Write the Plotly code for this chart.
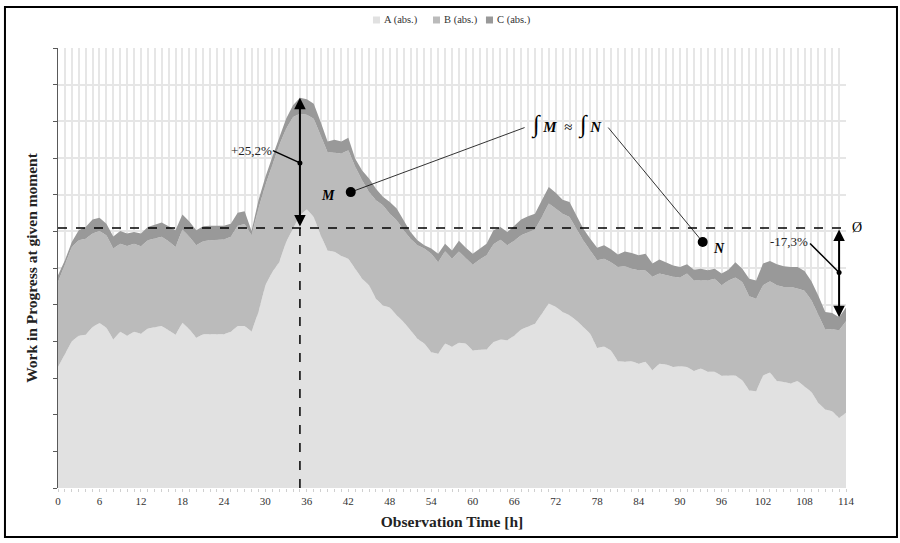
import plotly.graph_objects as go

# ---------------- data ----------------
hours = list(range(0, 115))

a_abs = [10.30, 10.66, 11.00, 11.15, 11.18, 11.39, 11.50, 11.37, 11.05, 11.26,
         11.15, 11.26, 11.21, 11.35, 11.38, 11.42, 11.30, 11.18, 11.51, 11.33,
         11.10, 11.19, 11.19, 11.19, 11.19, 11.26, 11.42, 11.42, 11.27, 11.80,
         12.53, 12.89, 13.16, 13.71, 14.07, 14.44, 14.60, 14.39, 13.89, 13.48,
         13.44, 13.33, 13.25, 12.98, 12.71, 12.53, 12.16, 11.98, 11.92, 11.71,
         11.53, 11.30, 11.07, 10.94, 10.70, 10.66, 10.94, 10.85, 10.96, 10.94,
         10.75, 10.77, 10.78, 10.98, 11.05, 11.03, 11.15, 11.32, 11.41, 11.48,
         11.75, 12.03, 11.94, 11.80, 11.71, 11.57, 11.39, 11.21, 10.82, 10.86,
         10.75, 10.46, 10.44, 10.46, 10.39, 10.44, 10.21, 10.39, 10.37, 10.30,
         10.32, 10.30, 10.19, 10.26, 10.17, 10.17, 10.06, 10.07, 10.07, 9.94,
         9.66, 9.64, 10.07, 10.15, 9.92, 9.89, 9.85, 9.92, 9.77, 9.62,
         9.32, 9.14, 9.09, 8.91, 9.05]

b_abs = [2.32, 2.41, 2.57, 2.61, 2.62, 2.55, 2.51, 2.52, 2.48, 2.40,
         2.45, 2.40, 2.38, 2.41, 2.42, 2.43, 2.43, 2.39, 2.54, 2.52,
         2.52, 2.54, 2.57, 2.57, 2.59, 2.59, 2.73, 2.78, 2.62, 2.82,
         2.73, 2.91, 3.19, 3.09, 3.05, 2.77, 2.58, 2.68, 2.73, 2.68,
         2.70, 2.79, 2.96, 2.78, 2.68, 2.54, 2.69, 2.73, 2.56, 2.59,
         2.50, 2.50, 2.55, 2.59, 2.69, 2.50, 2.52, 2.40, 2.49, 2.34,
         2.34, 2.46, 2.57, 2.67, 2.72, 2.59, 2.59, 2.57, 2.57, 2.57,
         2.64, 2.73, 2.68, 2.68, 2.68, 2.50, 2.36, 2.27, 2.39, 2.39,
         2.41, 2.57, 2.61, 2.52, 2.55, 2.49, 2.55, 2.46, 2.43, 2.46,
         2.42, 2.55, 2.47, 2.39, 2.49, 2.54, 2.47, 2.59, 2.67, 2.68,
         2.57, 2.52, 2.46, 2.49, 2.61, 2.59, 2.63, 2.52, 2.61, 2.50,
         2.38, 2.18, 2.24, 2.39, 2.50]

c_abs = [0.18, 0.14, 0.14, 0.27, 0.32, 0.38, 0.36, 0.32, 0.33, 0.35,
         0.34, 0.32, 0.35, 0.36, 0.38, 0.39, 0.41, 0.46, 0.41, 0.42,
         0.41, 0.41, 0.39, 0.39, 0.37, 0.36, 0.36, 0.35, 0.12, 0.23,
         0.22, 0.23, 0.22, 0.27, 0.32, 0.43, 0.42, 0.41, 0.36, 0.29,
         0.36, 0.33, 0.34, 0.22, 0.27, 0.37, 0.31, 0.23, 0.32, 0.32,
         0.27, 0.18, 0.14, 0.09, 0.14, 0.23, 0.20, 0.23, 0.29, 0.27,
         0.30, 0.30, 0.31, 0.38, 0.35, 0.36, 0.42, 0.43, 0.43, 0.43,
         0.46, 0.45, 0.43, 0.38, 0.41, 0.37, 0.32, 0.32, 0.34, 0.37,
         0.35, 0.34, 0.40, 0.43, 0.41, 0.46, 0.36, 0.38, 0.36, 0.31,
         0.29, 0.25, 0.29, 0.33, 0.28, 0.27, 0.32, 0.29, 0.42, 0.36,
         0.48, 0.50, 0.59, 0.55, 0.57, 0.57, 0.55, 0.59, 0.54, 0.52,
         0.54, 0.48, 0.44, 0.36, 0.37]

series_names = ["A (abs.)", "B (abs.)", "C (abs.)"]
x_tick_vals = list(range(0, 115, 6))
x_tick_text = [str(v) for v in x_tick_vals]

label_up = "+25,2%"
label_down = "-17,3%"

# ---------------- derived ----------------
totals = [a + b + c for a, b, c in zip(a_abs, b_abs, c_abs)]
avg = sum(totals) / len(totals)
peak_i = max(range(len(totals)), key=lambda i: totals[i])
peak_x = hours[peak_i]
peak_y = totals[peak_i]
low_x = 113
low_y = totals[hours.index(low_x)]

SERIF = "Liberation Serif, Times New Roman, serif"
colors = ["#e1e1e1", "#bbbbbb", "#999999"]

fig = go.Figure()
for name, vals, col in zip(series_names, [a_abs, b_abs, c_abs], colors):
    fig.add_trace(go.Scatter(
        x=hours, y=vals, name=name, stackgroup="wip", mode="lines",
        line=dict(width=0, color=col), fillcolor=col, hoverinfo="skip"))

# arrow midpoints
mid_up = (avg + peak_y) / 2
mid_dn = (avg + low_y) / 2
fig.add_trace(go.Scatter(x=[peak_x, low_x], y=[mid_up, mid_dn], mode="markers",
                         marker=dict(color="black", size=5), showlegend=False,
                         hoverinfo="skip"))
# M / N points
fig.add_trace(go.Scatter(x=[42.35, 93.27], y=[15.07, 13.71], mode="markers",
                         marker=dict(color="black", size=10), showlegend=False,
                         hoverinfo="skip"))

shapes = []
# average line
shapes.append(dict(type="line", xref="x", yref="y", x0=0, x1=114.3, y0=avg, y1=avg,
                   line=dict(color="black", width=1.5, dash="dash")))
# vertical dashed at peak
shapes.append(dict(type="line", xref="x", yref="y", x0=peak_x, x1=peak_x, y0=7, y1=avg,
                   line=dict(color="black", width=1.5, dash="dash")))
# leader lines
shapes.append(dict(type="line", xref="x", yref="y", x0=31.1, y0=16.2, x1=peak_x, y1=mid_up,
                   line=dict(color="black", width=1.5)))
shapes.append(dict(type="line", xref="x", yref="y", x0=108.8, y0=13.67, x1=low_x, y1=mid_dn,
                   line=dict(color="black", width=1.5)))
shapes.append(dict(type="line", xref="x", yref="y", x0=42.35, y0=15.07, x1=67.5, y1=16.83,
                   line=dict(color="black", width=0.8)))
shapes.append(dict(type="line", xref="x", yref="y", x0=79.6, y0=16.83, x1=93.27, y1=13.71,
                   line=dict(color="black", width=0.8)))
# outer frame
shapes.append(dict(type="rect", xref="paper", yref="paper",
                   x0=-0.0673, x1=1.0647, y0=-0.1114, y1=1.0932,
                   line=dict(color="black", width=2), layer="above"))

annotations = []
# legend (drawn manually: small squares + labels)
legend_sq_x = [0.3997, 0.4759, 0.5431]
legend_txt_x = [0.4112, 0.4873, 0.5545]
for name, col, sx, tx in zip(series_names, colors, legend_sq_x, legend_txt_x):
    shapes.append(dict(type="rect", xref="paper", yref="paper",
                       x0=sx, x1=sx + 0.0089, y0=1.0557, y1=1.0716,
                       fillcolor=col, line=dict(width=0)))
    annotations.append(dict(x=tx, y=1.0636, xref="paper", yref="paper", text=name,
                            showarrow=False, xanchor="left", yanchor="middle",
                            font=dict(family=SERIF, size=10.5, color="#333333")))

# double arrows
annotations.append(dict(x=peak_x, y=peak_y, ax=peak_x, ay=avg, xref="x", yref="y",
                        axref="x", ayref="y", text="", showarrow=True, arrowhead=2,
                        arrowside="end+start", arrowwidth=2, arrowsize=1.15,
                        arrowcolor="black"))
annotations.append(dict(x=low_x, y=low_y, ax=low_x, ay=avg, xref="x", yref="y",
                        axref="x", ayref="y", text="", showarrow=True, arrowhead=2,
                        arrowside="end+start", arrowwidth=2, arrowsize=1.15,
                        arrowcolor="black"))
annotations.append(dict(x=31.3, y=16.2, text=label_up, showarrow=False, xanchor="right",
                        font=dict(family=SERIF, size=13, color="#222222")))
annotations.append(dict(x=108.8, y=13.72, text=label_down, showarrow=False, xanchor="right",
                        font=dict(family=SERIF, size=13, color="#222222")))
annotations.append(dict(x=39.1, y=14.98, text="<b><i>M</i></b>", showarrow=False,
                        font=dict(family=SERIF, size=14, color="black")))
annotations.append(dict(x=95.6, y=13.52, text="<b><i>N</i></b>", showarrow=False,
                        font=dict(family=SERIF, size=14, color="black")))
annotations.append(dict(x=73.5, y=16.9,
                        text="<span style='font-size:24px'>∫</span>\u00a0<b><i>M</i></b>\u00a0\u00a0≈\u00a0\u00a0"
                             "<span style='font-size:24px'>∫</span>\u00a0<b><i>N</i></b>",
                        showarrow=False,
                        font=dict(family=SERIF, size=15, color="black")))
annotations.append(dict(x=1.0145, y=avg, xref="paper", yref="y", text="Ø",
                        showarrow=False, xanchor="center",
                        font=dict(family=SERIF, size=14, color="black")))

fig.update_layout(
    width=900, height=543,
    margin=dict(l=58, r=54, t=48, b=55, autoexpand=False),
    paper_bgcolor="white", plot_bgcolor="white",
    font=dict(family=SERIF, size=11, color="#333333"),
    showlegend=False,
    shapes=shapes,
    annotations=annotations,
)

fig.update_xaxes(
    range=[0, 114], tickvals=x_tick_vals, ticktext=x_tick_text, automargin=False,
    showgrid=True, gridcolor="#e6e6e6", gridwidth=1.5,
    minor=dict(dtick=1, showgrid=True, gridcolor="#e6e6e6", gridwidth=1.5,
               ticks="outside", ticklen=3, tickcolor="#d0d0d0"),
    ticks="outside", ticklen=3, tickcolor="#d0d0d0",
    showline=False, zeroline=False,
    tickfont=dict(family=SERIF, size=11, color="#333333"),
    title=dict(text="<b>Observation Time [h]</b>", standoff=9,
               font=dict(family=SERIF, size=15.5, color="#222222")),
)
fig.update_yaxes(
    range=[7, 19], dtick=1, tick0=7, showticklabels=False, automargin=False,
    showgrid=True, gridcolor="#e6e6e6", gridwidth=1.5,
    ticks="outside", ticklen=4, tickcolor="#595959",
    showline=True, linecolor="#595959", linewidth=1, zeroline=False,
    title=dict(text="<b>Work in Progress at given moment</b>", standoff=11,
               font=dict(family=SERIF, size=15.5, color="#222222")),
)

fig.write_html("out.html", config={"displayModeBar": False},
               post_script="document.body.style.margin='0';document.body.style.overflow='hidden';")
